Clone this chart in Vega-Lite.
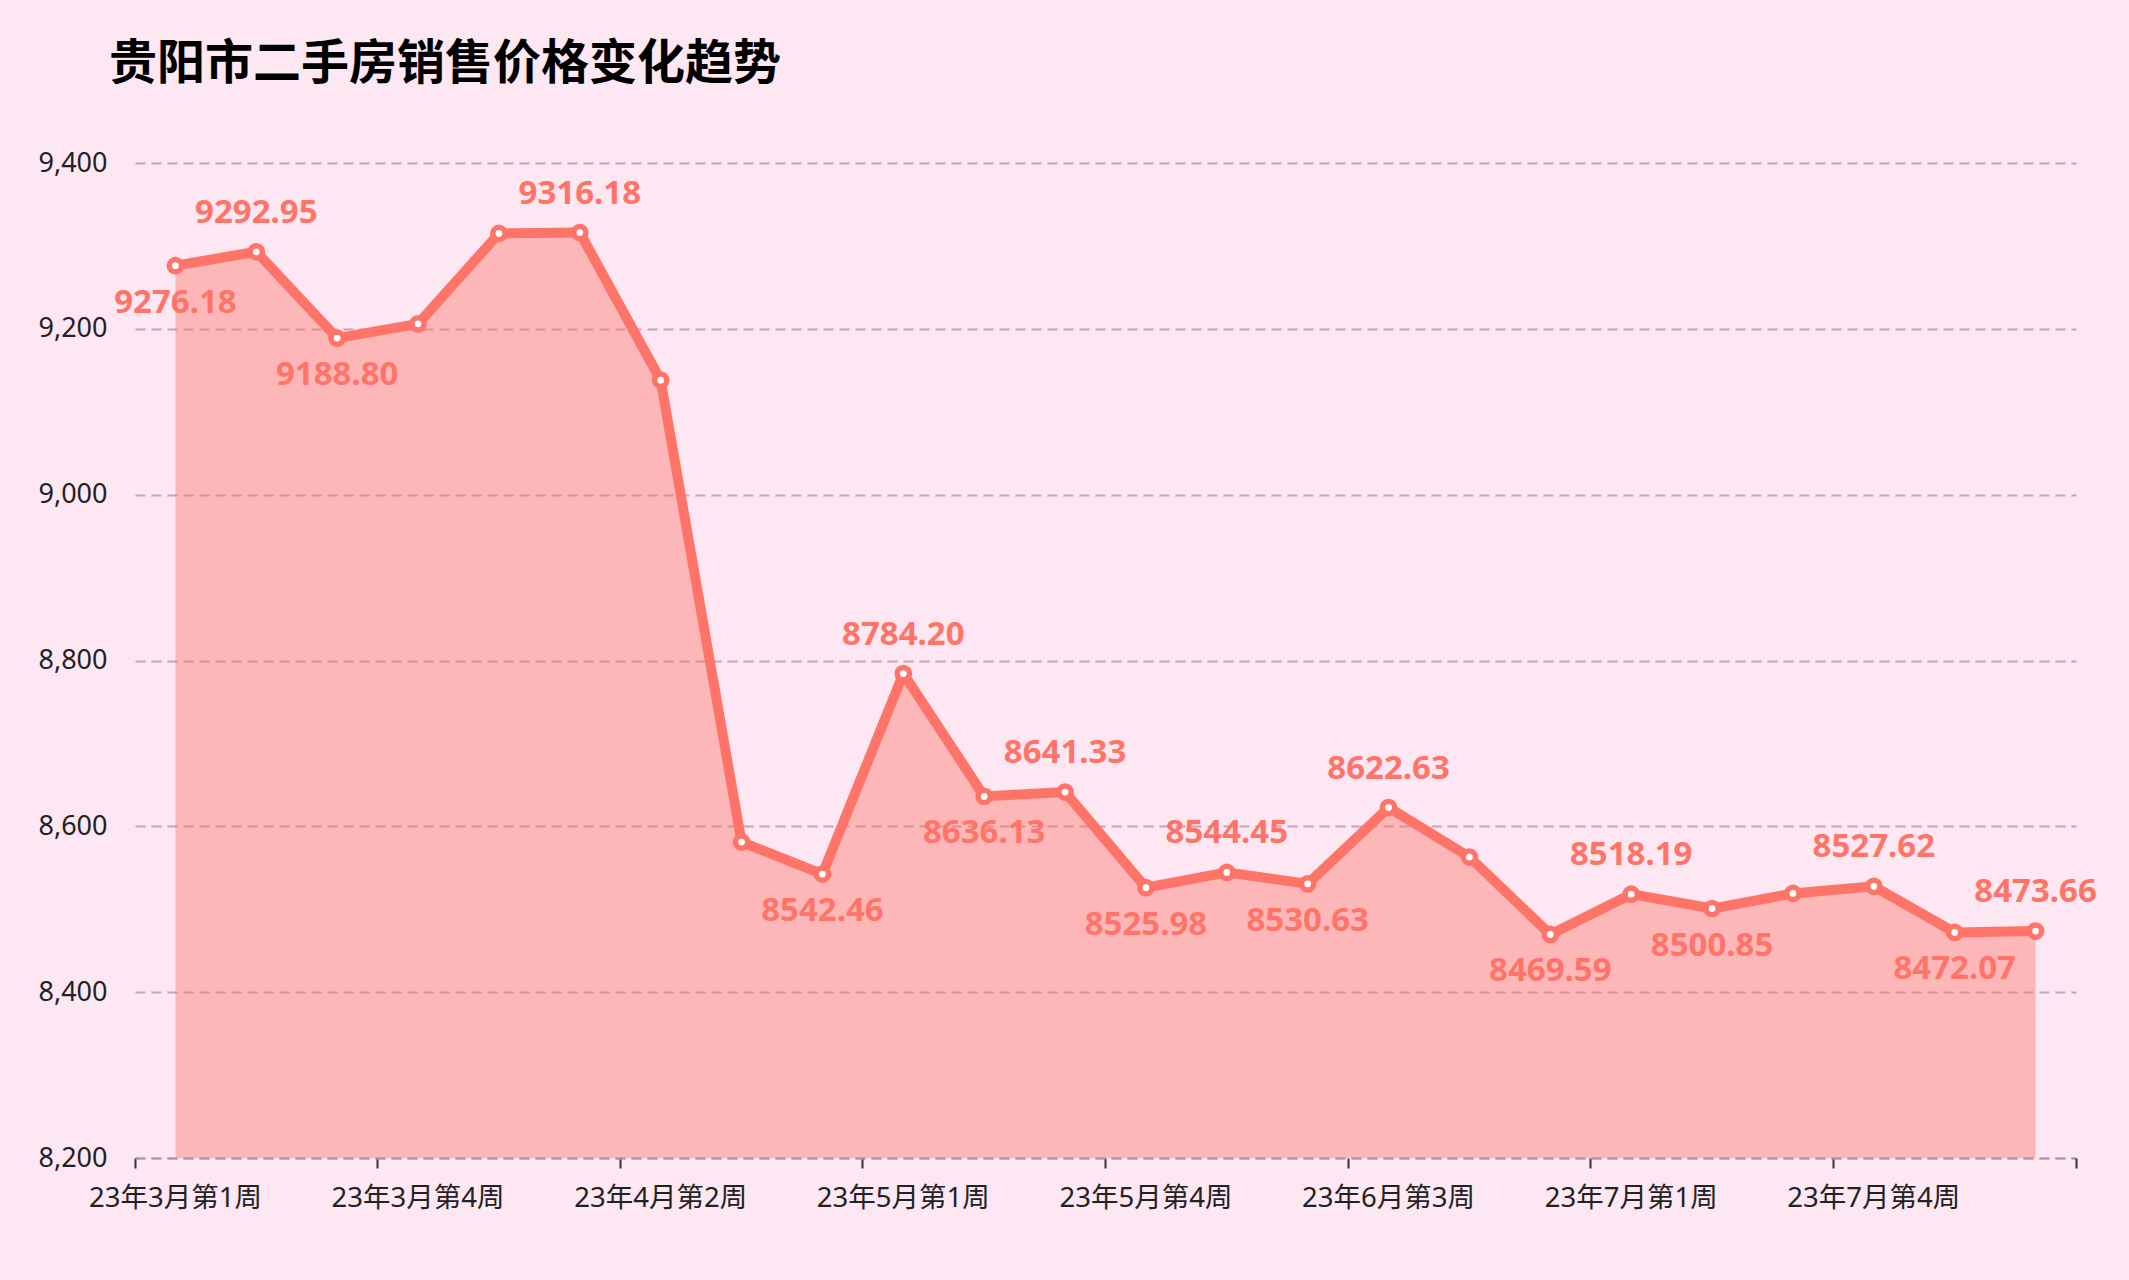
{
  "$schema": "https://vega.github.io/schema/vega-lite/v6.json",
  "width": 1941,
  "height": 995,
  "autosize": {"type": "none"},
  "padding": {"left": 135, "top": 163, "right": 53, "bottom": 122},
  "background": "#fde7f2",
  "config": {
    "view": {"stroke": null},
    "font": "'Noto Sans', 'Noto Sans CJK SC', sans-serif"
  },
  "title": {
    "text": "贵阳市二手房销售价格变化趋势",
    "anchor": "start",
    "frame": "group",
    "font": "'Noto Sans CJK SC', sans-serif",
    "fontSize": 48,
    "fontWeight": "bold",
    "color": "#000000",
    "baseline": "alphabetic",
    "dx": -26,
    "offset": 22
  },
  "data": {
    "values": [
      {"week": "23年3月第1周", "price": 9276.18},
      {"week": "23年3月第2周", "price": 9292.95},
      {"week": "23年3月第3周", "price": 9188.80},
      {"week": "23年3月第4周", "price": 9206},
      {"week": "23年3月第5周", "price": 9315},
      {"week": "23年4月第1周", "price": 9316.18},
      {"week": "23年4月第2周", "price": 9138},
      {"week": "23年4月第3周", "price": 8581},
      {"week": "23年4月第4周", "price": 8542.46},
      {"week": "23年5月第1周", "price": 8784.20},
      {"week": "23年5月第2周", "price": 8636.13},
      {"week": "23年5月第3周", "price": 8641.33},
      {"week": "23年5月第4周", "price": 8525.98},
      {"week": "23年6月第1周", "price": 8544.45},
      {"week": "23年6月第2周", "price": 8530.63},
      {"week": "23年6月第3周", "price": 8622.63},
      {"week": "23年6月第4周", "price": 8563},
      {"week": "23年6月第5周", "price": 8469.59},
      {"week": "23年7月第1周", "price": 8518.19},
      {"week": "23年7月第2周", "price": 8500.85},
      {"week": "23年7月第3周", "price": 8519},
      {"week": "23年7月第4周", "price": 8527.62},
      {"week": "23年7月第5周", "price": 8472.07},
      {"week": "23年8月第1周", "price": 8473.66}
    ]
  },
  "transform": [
    {
      "window": [
        {"op": "lag", "field": "price", "as": "prev"},
        {"op": "lead", "field": "price", "as": "next"}
      ]
    }
  ],
  "encoding": {
    "x": {
      "field": "week",
      "type": "ordinal",
      "sort": null,
      "bandPosition": 0.5,
      "scale": {"type": "band", "paddingInner": 0, "paddingOuter": 0},
      "axis": null
    },
    "y": {
      "field": "price",
      "type": "quantitative",
      "scale": {"domain": [8200, 9400], "zero": false, "nice": false},
      "axis": {
        "title": null,
        "values": [8200, 8400, 8600, 8800, 9000, 9200, 9400],
        "labelExpr": "format(datum.value, ',')",
        "domain": false,
        "ticks": false,
        "tickSize": 0,
        "labelFontSize": 27,
        "labelColor": "#222222",
        "labelPadding": 28,
        "grid": true,
        "gridColor": "#bfa8b5",
        "gridWidth": 2,
        "gridDash": [10, 6]
      }
    }
  },
  "layer": [
    {
      "mark": {"type": "area", "color": "#ff7468", "opacity": 0.42},
      "encoding": {
        "x": {
          "field": "week",
          "type": "ordinal",
          "sort": null,
          "bandPosition": 0.5,
          "scale": {"type": "band", "paddingInner": 0, "paddingOuter": 0},
          "axis": {
            "orient": "bottom",
            "title": null,
            "values": ["23年3月第1周", "23年3月第4周", "23年4月第2周", "23年5月第1周", "23年5月第4周", "23年6月第3周", "23年7月第1周", "23年7月第4周"],
            "bandPosition": 0,
            "grid": false,
            "labelAngle": 0,
            "labelFontSize": 27.5,
            "labelColor": "#222222",
            "labelPadding": 16,
            "tickSize": 10,
            "tickWidth": 2,
            "tickColor": "#333333",
            "domain": true,
            "domainColor": "#a49ca2",
            "domainWidth": 2,
            "domainDash": [10, 6],
            "labelOverlap": false
          }
        },
        "y2": {"datum": 8200}
      }
    },
    {
      "mark": {"type": "line", "color": "#ff7468", "strokeWidth": 10, "strokeJoin": "round", "strokeCap": "round"},
      "encoding": {}
    },
    {
      "mark": {"type": "point", "filled": true, "fill": "#ffffff", "stroke": "#ff7468", "strokeWidth": 5.5, "size": 150, "opacity": 1},
      "encoding": {
        "x": {
          "field": "week",
          "type": "ordinal",
          "sort": null,
          "bandPosition": 0.5,
          "scale": {"type": "band", "paddingInner": 0, "paddingOuter": 0},
          "axis": {
            "orient": "bottom",
            "title": null,
            "values": ["23年8月第1周"],
            "bandPosition": 1,
            "grid": false,
            "labels": false,
            "domain": false,
            "tickSize": 10,
            "tickWidth": 2,
            "tickColor": "#333333"
          }
        }
      }
    },
    {
      "transform": [
        {"filter": "(datum.prev == null || datum.price > datum.prev) && (datum.next == null || datum.price > datum.next)"}
      ],
      "mark": {"type": "text", "color": "#ff7468", "fontSize": 33, "fontWeight": "bold", "baseline": "middle", "align": "center", "dy": -39},
      "encoding": {
        "text": {"field": "price", "type": "quantitative", "format": ".2f"}
      }
    },
    {
      "transform": [
        {"filter": "(datum.prev == null || datum.price < datum.prev) && (datum.next == null || datum.price < datum.next)"}
      ],
      "mark": {"type": "text", "color": "#ff7468", "fontSize": 33, "fontWeight": "bold", "baseline": "middle", "align": "center", "dy": 37},
      "encoding": {
        "text": {"field": "price", "type": "quantitative", "format": ".2f"}
      }
    }
  ],
  "resolve": {"axis": {"x": "independent"}}
}
